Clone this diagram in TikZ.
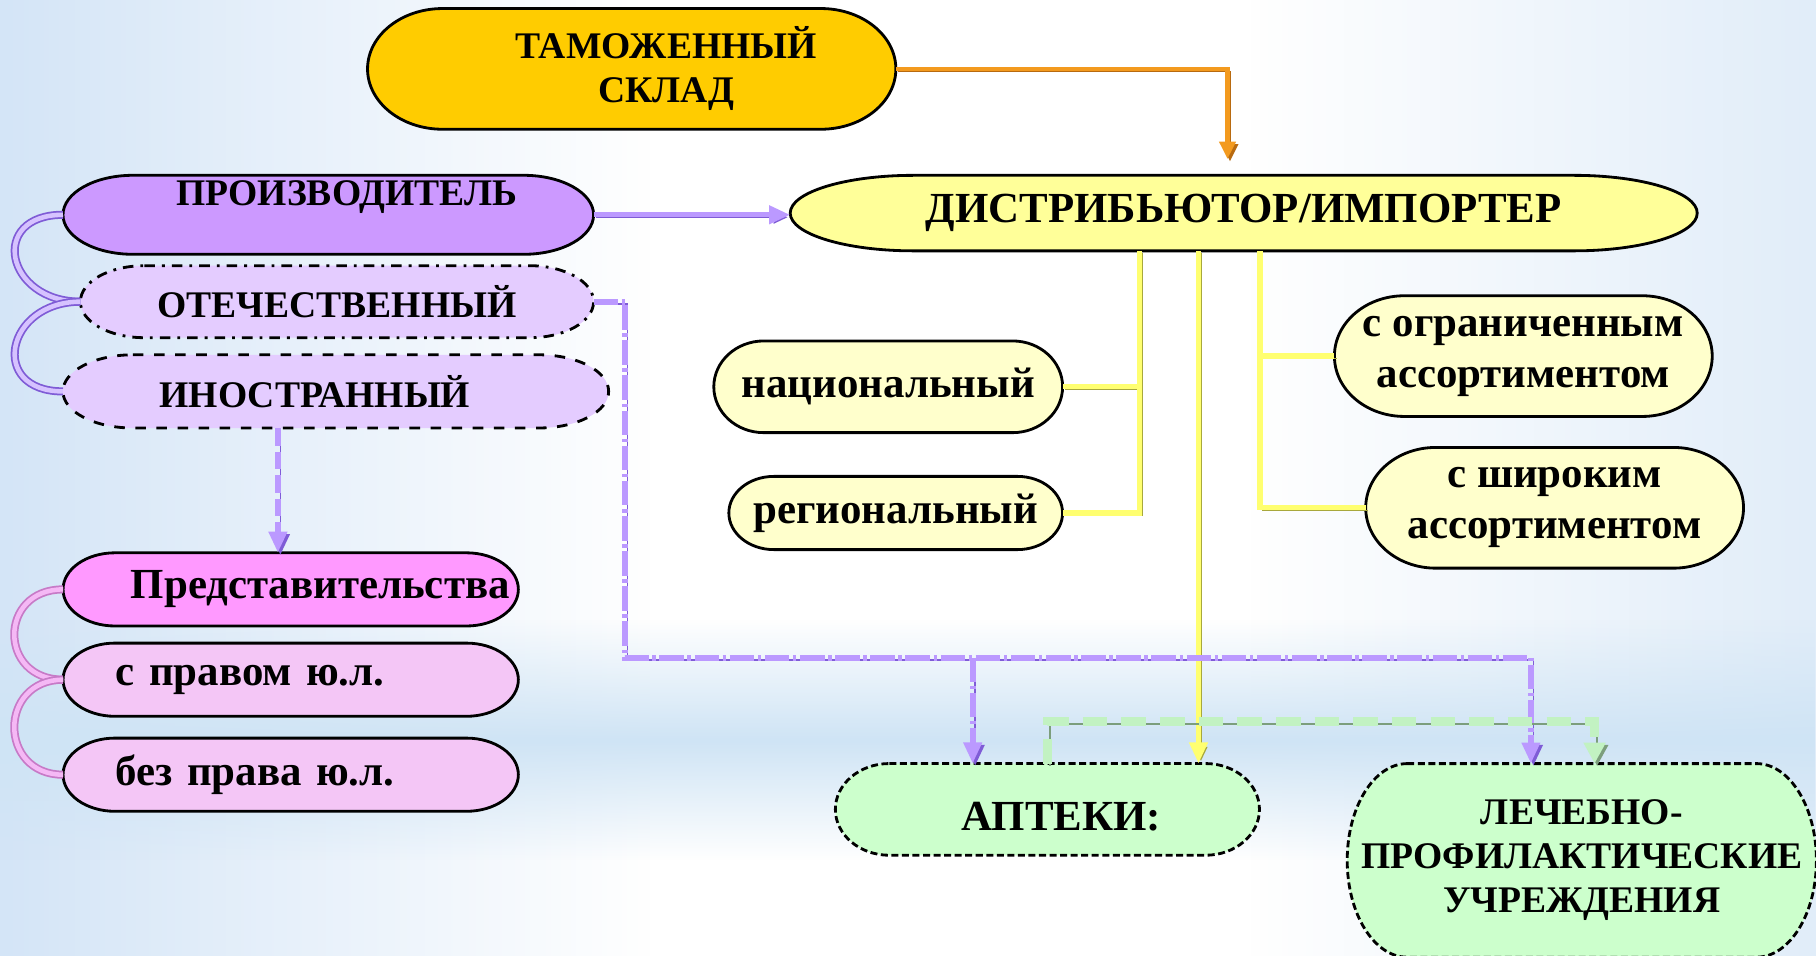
\documentclass[tikz,border=0pt]{standalone}
\usepackage{fontspec}
\setmainfont{Liberation Serif}
\usetikzlibrary{arrows.meta,calc,fadings}

\definecolor{bgblue}{HTML}{D4E5F7}
\definecolor{bgband}{HTML}{CFE4F5}
\definecolor{goldfill}{HTML}{FFCC00}
\definecolor{distfill}{HTML}{FFFF99}
\definecolor{violetfill}{HTML}{CC99FF}
\definecolor{lilacfill}{HTML}{E4CCFF}
\definecolor{pinkfill}{HTML}{FF99FF}
\definecolor{pinklight}{HTML}{F4C6F6}
\definecolor{creamfill}{HTML}{FFFFCC}
\definecolor{mintfill}{HTML}{CCFFCC}
\definecolor{orangeline}{HTML}{F39A1E}
\definecolor{orangedark}{HTML}{B86A10}
\definecolor{purpleline}{HTML}{BB99FF}
\definecolor{purpledark}{HTML}{7F5CD6}
\definecolor{pinkline}{HTML}{F5B8F5}
\definecolor{pinkdark}{HTML}{C77AC7}
\definecolor{yellowline}{HTML}{FFFF70}
\definecolor{yellowdark}{HTML}{A8A83C}
\definecolor{greenline}{HTML}{C2F2C2}
\definecolor{greendark}{HTML}{7C9E7C}

\newcommand{\capsfont}{\fontsize{10.7pt}{12.5pt}\selectfont\bfseries}
\newcommand{\lowfont}{\fontsize{12.2pt}{14.5pt}\selectfont\bfseries}
\newcommand{\bigfont}{\fontsize{12.2pt}{14pt}\selectfont\bfseries}

% outline of a box with half-elliptic ends: node, x radius, style
\newcommand{\capsule}[3]{%
  \draw[#3] let \p1=(#1.north east), \p2=(#1.south west), \n1={0.5*(\y1-\y2)} in
    (\x2+#2,\y1) -- (\x1-#2,\y1)
    arc[start angle=90, end angle=-90, x radius=#2, y radius=\n1]
    -- (\x2+#2,\y2)
    arc[start angle=270, end angle=90, x radius=#2, y radius=\n1] -- cycle;}

\pgfdeclarelayer{bgpage}
\pgfdeclarelayer{shapes}
\pgfsetlayers{bgpage,shapes,main}

\tikzfading[name=faderight, left color=transparent!0, right color=transparent!100]
\tikzfading[name=fadeleft, left color=transparent!100, right color=transparent!0]
\tikzfading[name=fadeband, top color=transparent!100, bottom color=transparent!100,
  middle color=transparent!0]

\tikzset{
  box/.style={rectangle, inner sep=0pt, align=center, font=\capsfont},
  outline/.style={draw=black, line width=0.8pt, fill=#1},
  shadowed/.style={preaction={draw=#1, transform canvas={shift={(0.7pt,-0.7pt)}}}},
  oline/.style={draw=orangeline, line width=1.3pt, shadowed=orangedark,
    -{Triangle[length=5pt,width=4.5pt]}},
  pline/.style={draw=purpleline, line width=1.5pt, shadowed=purpledark,
    -{Triangle[length=6pt,width=5pt]}},
  pdash/.style={draw=purpleline, line width=1.8pt, shadowed=purpledark,
    dash pattern=on 7pt off 1pt on 1pt off 1pt},
  yline/.style={draw=yellowline, line width=1.5pt, shadowed=yellowdark},
  gdash/.style={draw=greenline, line width=2.6pt, shadowed=greendark,
    dash pattern=on 7pt off 4pt},
  loopline/.style={draw=#1, line width=0.5pt, double distance=1.3pt},
}

\begin{document}
\begin{tikzpicture}
\useasboundingbox (0,-9.56) rectangle (18.16,0);

% top part
\node[box, minimum width=5.269cm, minimum height=1.193cm]
  (sklad) at (6.317,-0.689) {\hspace*{0.69cm}ТАМОЖЕННЫЙ\\\hspace*{0.69cm}СКЛАД};
\node[box, minimum width=9.056cm, minimum height=0.741cm, font=\bigfont]
  (dist) at (12.437,-2.131) {ДИСТРИБЬЮТОР/ИМПОРТЕР};

% producers
\node[box, minimum width=5.292cm, minimum height=0.776cm,
  text height=0.3cm, text depth=0.476cm]
  (proizv) at (3.283,-2.148) {\hspace*{0.37cm}ПРОИЗВОДИТЕЛЬ};
\node[box, minimum width=5.118cm, minimum height=0.706cm]
  (otech) at (3.370,-3.017) {ОТЕЧЕСТВЕННЫЙ};
\node[box, minimum width=5.443cm, minimum height=0.718cm]
  (inostr) at (3.358,-3.914) {ИНОСТРАННЫЙ\hspace*{0.417cm}};

% representations
\node[box, minimum width=4.539cm, minimum height=0.718cm,
  font=\lowfont, text width=4.379cm, align=right]
  (predst) at (2.907,-5.894) {Представительства};
\node[box, minimum width=4.539cm, minimum height=0.718cm,
  font=\lowfont, text width=3.497cm, align=left]
  (spravom) at (2.907,-6.797) {с правом ю.л.};
\node[box, minimum width=4.539cm, minimum height=0.718cm,
  font=\lowfont, text width=3.497cm, align=left]
  (bezprava) at (2.907,-7.747) {без права ю.л.};

% kinds of distributors
\node[box, minimum width=3.474cm, minimum height=0.903cm, font=\lowfont]
  (nats) at (8.882,-3.868) {национальный};
\node[box, minimum width=3.323cm, minimum height=0.718cm, font=\lowfont]
  (reg) at (8.957,-5.130) {региональный};
\node[box, minimum width=3.764cm, minimum height=1.193cm, font=\lowfont]
  (ogr) at (15.233,-3.561) {с ограниченным\\ассортиментом};
\node[box, minimum width=3.764cm, minimum height=1.193cm, font=\lowfont]
  (shir) at (15.546,-5.078) {с широким\\ассортиментом};

% receivers
\node[box, minimum width=4.227cm, minimum height=0.903cm, font=\bigfont,
  text height=0.55cm, text depth=0.126cm]
  (apt) at (10.474,-8.094) {\hspace*{0.28cm}АПТЕКИ:};
\node[box, minimum width=4.678cm, minimum height=1.922cm]
  (lpu) at (15.818,-8.604) {ЛЕЧЕБНО-\\ПРОФИЛАКТИЧЕСКИЕ\\УЧРЕЖДЕНИЯ};

% background and outlines
\begin{pgfonlayer}{bgpage}
  \fill[white] (0,-9.56) rectangle (18.16,0);
  \fill[bgblue, path fading=faderight] (0,-9.56) rectangle (6.5,0);
  \fill[bgblue!70, path fading=fadeleft] (12.5,-9.56) rectangle (18.16,0);
  \fill[bgband, path fading=fadeband] (0,-8.6) rectangle (18.16,-6.2);
\end{pgfonlayer}
\begin{pgfonlayer}{shapes}
  \capsule{sklad}{0.75cm}{outline=goldfill}
  \capsule{dist}{1.23cm}{outline=distfill}
  \capsule{proizv}{0.7cm}{outline=violetfill}
  \capsule{otech}{0.64cm}{outline=lilacfill, dash dot}
  \capsule{inostr}{0.7cm}{outline=lilacfill, dashed}
  \capsule{predst}{0.52cm}{outline=pinkfill}
  \capsule{spravom}{0.52cm}{outline=pinklight}
  \capsule{bezprava}{0.52cm}{outline=pinklight}
  \capsule{nats}{0.5cm}{outline=creamfill}
  \capsule{reg}{0.45cm}{outline=creamfill}
  \capsule{ogr}{0.7cm}{outline=creamfill}
  \capsule{shir}{0.7cm}{outline=creamfill}
  \capsule{apt}{0.54cm}{outline=mintfill, dash pattern=on 2pt off 1pt}
  \capsule{lpu}{0.6cm}{outline=mintfill, dash pattern=on 2pt off 1pt}
\end{pgfonlayer}

% trunk positions
\coordinate (ytl) at (11.395,0);
\coordinate (ytm) at (11.985,0);
\coordinate (ytr) at (12.599,0);
\coordinate (px) at (2.779,0);
\coordinate (bus) at (6.253,-6.577);
\coordinate (ax) at (9.727,0);
\coordinate (lx) at (15.309,0);
\coordinate (gtop) at (15.946,-7.214);

% connectors
\draw[oline] (sklad.east) -| ($(dist.north)+(-0.162,0.162)$);
\draw[pline] (proizv.east) -- (proizv.east -| dist.west);
\draw[yline] (dist.south -| ytl) |- (nats.east);
\draw[yline] (dist.south -| ytl) |- (reg.east);
\draw[yline] (dist.south -| ytr) |- (ogr.west);
\draw[yline] (dist.south -| ytr) |- (shir.west);
\draw[yline, -{Triangle[length=6pt,width=5pt]}] (dist.south -| ytm) -- (apt.north -| ytm);
\draw[pdash, dash pattern=on 5pt off 1.7pt, -{Triangle[length=6pt,width=5pt]}]
  (inostr.south -| px) -- (predst.north -| px);
\draw[pdash, -{Triangle[length=6pt,width=5pt]}] (otech.east) -| (bus) -| (lpu.north -| lx);
\draw[pdash, -{Triangle[length=6pt,width=5pt]}] (bus -| ax) -- (apt.north -| ax);
\draw[gdash, -{Triangle[length=6pt,width=6pt]}] (apt.north) |- (gtop) -- (gtop |- lpu.north);

% side loops
\draw[loopline=purpledark, double=purpleline!60] (proizv.west) to[out=180,in=180,distance=0.75cm] (otech.west);
\draw[loopline=purpledark, double=purpleline!60] (otech.west) to[out=180,in=180,distance=0.75cm] (inostr.west);
\draw[loopline=pinkdark, double=pinkline] (predst.west) to[out=180,in=180,distance=0.65cm] (spravom.west);
\draw[loopline=pinkdark, double=pinkline] (spravom.west) to[out=180,in=180,distance=0.65cm] (bezprava.west);
\end{tikzpicture}
\end{document}
